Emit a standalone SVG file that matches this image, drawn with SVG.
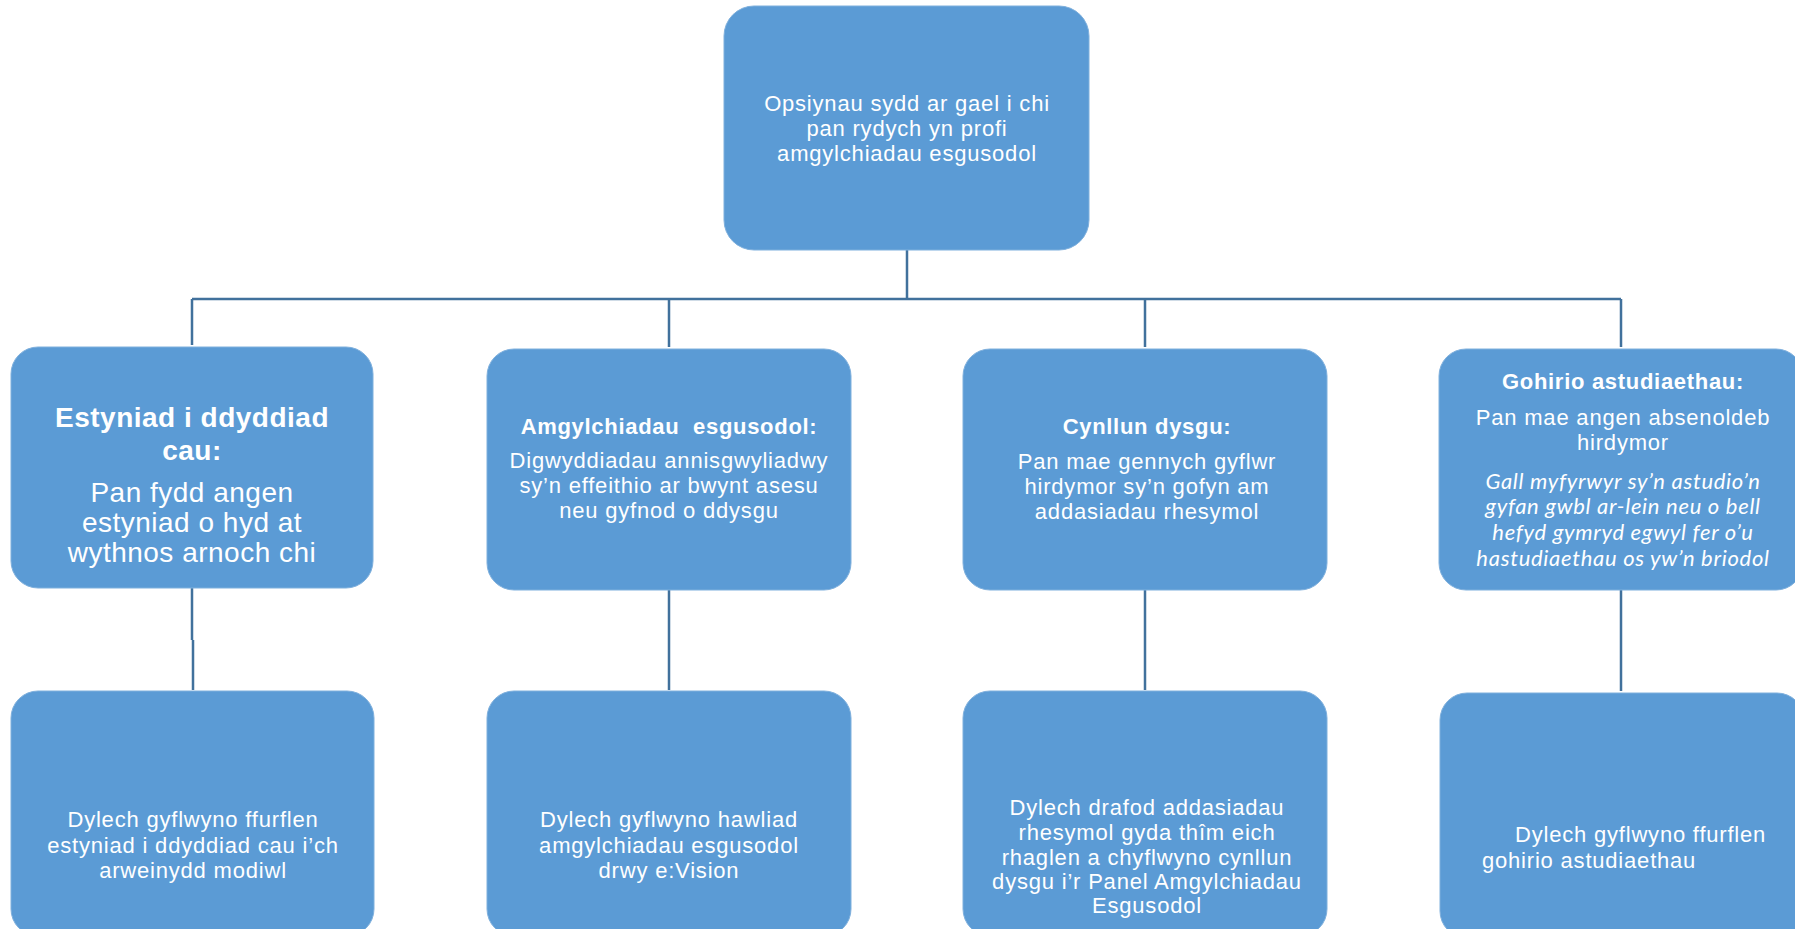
<svg xmlns="http://www.w3.org/2000/svg" width="1795" height="929" viewBox="0 0 1795 929">
<style>
.box{fill:#5B9BD5;stroke:#7FB0DD;stroke-width:1}
.c{fill:none;stroke:#41719C;stroke-width:2.5}
text{font-family:"Liberation Sans",Arial,sans-serif;fill:#fff;text-anchor:middle}
.r{font-size:22px;letter-spacing:0.8px}
.b{font-size:22px;font-weight:bold;letter-spacing:0.7px}
.big{font-size:28px;letter-spacing:0.5px}
.bigb{font-size:28px;font-weight:bold;letter-spacing:0.5px}
.it{font-family:Lato,"Open Sans",sans-serif;font-style:italic;font-size:22px;letter-spacing:0.7px}
</style>
<rect width="1795" height="929" fill="#fff"/>
<g id="connectors">
<path class="c" d="M907 250V299M192 299H1621M192 299V345M669 299V347M1145 299V347M1621 299V347"/>
<path class="c" d="M192 588V640M193 640V690M669 590V690M1145 590V690M1621 590V691"/>
</g>
<g id="root">
<rect class="box" x="724" y="6" width="365" height="244" rx="30"/>
<text class="r" x="907" y="111">Opsiynau sydd ar gael i chi</text>
<text class="r" x="907" y="136">pan rydych yn profi</text>
<text class="r" x="907" y="161">amgylchiadau esgusodol</text>
</g>
<g id="estyniad">
<rect class="box" x="11" y="347" width="362" height="241" rx="27"/>
<text class="bigb" x="192" y="427">Estyniad i ddyddiad</text>
<text class="bigb" x="192" y="460">cau:</text>
<text class="big" x="192" y="502">Pan fydd angen</text>
<text class="big" x="192" y="532">estyniad o hyd at</text>
<text class="big" x="192" y="562">wythnos arnoch chi</text>
</g>
<g id="amgylchiadau">
<rect class="box" x="487" y="349" width="364" height="241" rx="27"/>
<text class="b" x="669" y="434" xml:space="preserve">Amgylchiadau  esgusodol:</text>
<text class="r" x="669" y="468">Digwyddiadau annisgwyliadwy</text>
<text class="r" x="669" y="493">sy’n effeithio ar bwynt asesu</text>
<text class="r" x="669" y="518">neu gyfnod o ddysgu</text>
</g>
<g id="cynllun">
<rect class="box" x="963" y="349" width="364" height="241" rx="27"/>
<text class="b" x="1147" y="434">Cynllun dysgu:</text>
<text class="r" x="1147" y="469">Pan mae gennych gyflwr</text>
<text class="r" x="1147" y="494">hirdymor sy’n gofyn am</text>
<text class="r" x="1147" y="519">addasiadau rhesymol</text>
</g>
<g id="gohirio">
<rect class="box" x="1439" y="349" width="364" height="241" rx="27"/>
<text class="b" x="1623" y="389">Gohirio astudiaethau:</text>
<text class="r" x="1623" y="425">Pan mae angen absenoldeb</text>
<text class="r" x="1623" y="450">hirdymor</text>
<text class="it" x="1623" y="489">Gall myfyrwyr sy’n astudio’n</text>
<text class="it" x="1623" y="514">gyfan gwbl ar-lein neu o bell</text>
<text class="it" x="1623" y="540">hefyd gymryd egwyl fer o’u</text>
<text class="it" x="1623" y="566">hastudiaethau os yw’n briodol</text>
</g>
<g id="ffurflen-estyniad">
<rect class="box" x="11" y="691" width="363" height="245" rx="27"/>
<text class="r" x="193" y="827">Dylech gyflwyno ffurflen</text>
<text class="r" x="193" y="853">estyniad i ddyddiad cau i’ch</text>
<text class="r" x="193" y="878">arweinydd modiwl</text>
</g>
<g id="hawliad">
<rect class="box" x="487" y="691" width="364" height="245" rx="27"/>
<text class="r" x="669" y="827">Dylech gyflwyno hawliad</text>
<text class="r" x="669" y="853">amgylchiadau esgusodol</text>
<text class="r" x="669" y="878">drwy e:Vision</text>
</g>
<g id="cynllun-dysgu">
<rect class="box" x="963" y="691" width="364" height="245" rx="27"/>
<text class="r" x="1147" y="815">Dylech drafod addasiadau</text>
<text class="r" x="1147" y="840">rhesymol gyda thîm eich</text>
<text class="r" x="1147" y="865">rhaglen a chyflwyno cynllun</text>
<text class="r" x="1147" y="889">dysgu i’r Panel Amgylchiadau</text>
<text class="r" x="1147" y="913">Esgusodol</text>
</g>
<g id="ffurflen-gohirio">
<rect class="box" x="1440" y="693" width="364" height="245" rx="27"/>
<text class="r" x="1515" y="842" style="text-anchor:start">Dylech gyflwyno ffurflen</text>
<text class="r" x="1482" y="868" style="text-anchor:start">gohirio astudiaethau</text>
</g>
</svg>
